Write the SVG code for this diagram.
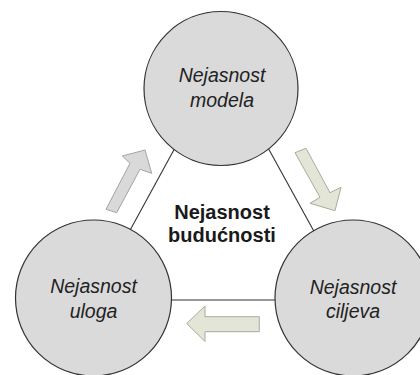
<svg xmlns="http://www.w3.org/2000/svg" width="420" height="375" viewBox="0 0 420 375">
<style>
.node{fill:#dadadb;stroke:#333;stroke-width:1.2}
.lbl{font-family:"Liberation Sans",Arial,sans-serif;font-style:italic;font-size:19.5px;fill:#222;text-anchor:middle}
.ctr{font-family:"Liberation Sans",Arial,sans-serif;font-weight:bold;font-size:20px;fill:#1a1a1a;text-anchor:middle}
.conn{stroke:#333;stroke-width:1.1;fill:none}
.ag{fill:#d9d9da;stroke:#a3a3a3;stroke-width:1}
.agr{fill:#e3e6d6;stroke:#a9aba0;stroke-width:1}
</style>
<rect width="420" height="375" fill="#fff"/>
<g id="connectors">
<line class="conn" x1="128" y1="234" x2="176" y2="146"/>
<line class="conn" x1="267" y1="146" x2="316" y2="235"/>
<line class="conn" x1="168" y1="300" x2="280" y2="300"/>
</g>
<g id="arrows">
<polygon class="ag" points="106,209.3 116.7,212.7 140,169.3 151.7,173.3 145,150 122.3,156 130,163.3"/>
<polygon class="agr" points="295,152.7 306,148.3 330,192.7 341,187.3 335,210.7 310,203.3 320,197.3"/>
<polygon class="agr" points="186.7,323.5 205,306 205,316.7 259.3,316.7 259.3,331.7 205,331.7 205,341.5"/>
</g>
<g id="node-modela">
<circle class="node" cx="221" cy="88.5" r="77"/>
<text class="lbl" x="222" y="82">Nejasnost</text>
<text class="lbl" x="222" y="107">modela</text>
</g>
<g id="node-uloga">
<circle class="node" cx="93.5" cy="298" r="78"/>
<text class="lbl" x="93.5" y="293">Nejasnost</text>
<text class="lbl" x="93.5" y="318">uloga</text>
</g>
<g id="node-ciljeva">
<circle class="node" cx="353" cy="298" r="78"/>
<text class="lbl" x="353" y="294">Nejasnost</text>
<text class="lbl" x="353" y="318">ciljeva</text>
</g>
<g id="center">
<text class="ctr" x="222" y="219">Nejasnost</text>
<text class="ctr" x="222" y="242">budućnosti</text>
</g>
</svg>
